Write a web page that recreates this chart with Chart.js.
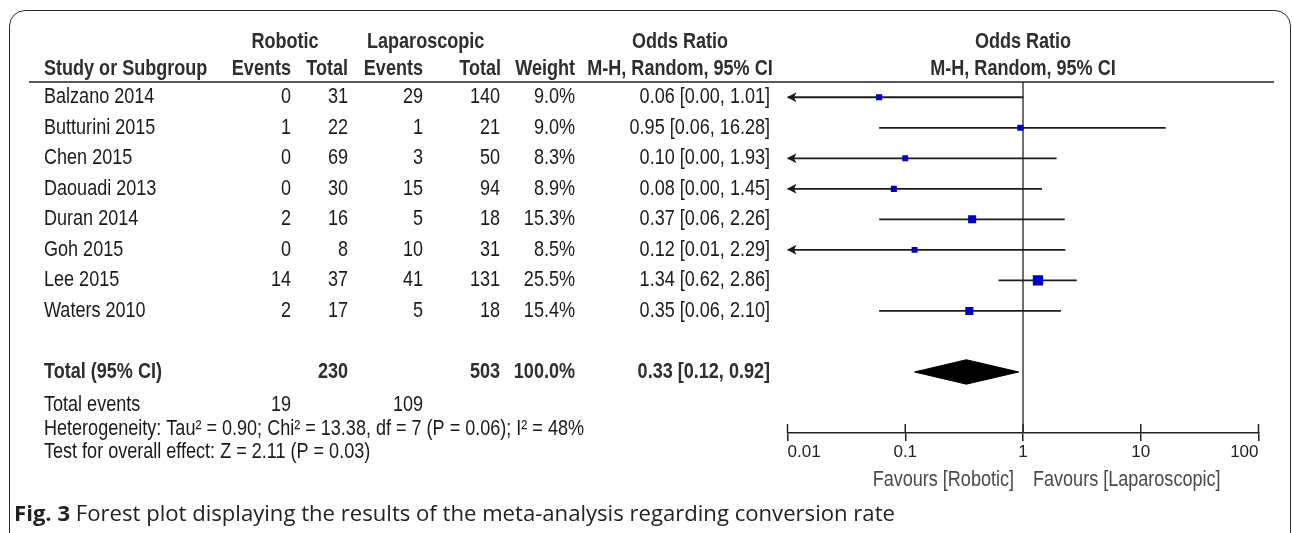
<!DOCTYPE html>
<html><head><meta charset="utf-8">
<script src="https://cdn.jsdelivr.net/npm/chart.js@4.4.1/dist/chart.umd.min.js"></script>
<style>
html,body{margin:0;padding:0;background:#fff;width:1292px;height:533px;overflow:hidden;}
#wrap{position:relative;width:1292px;height:533px;}
#frame{position:absolute;left:9px;top:10px;width:1282px;height:620px;border:1.6px solid #2a2a2a;border-radius:16px;box-sizing:border-box;}
canvas{position:absolute;left:0;top:0;}
#cap{position:absolute;left:14px;top:500px;font-family:"Open Sans";font-size:18px;color:#222;white-space:nowrap;line-height:24px;}
</style></head><body>
<div id="wrap"><div id="frame"></div><canvas id="c" width="1292" height="533"></canvas><div id="cap"><b>Fig. 3</b> Forest plot displaying the results of the meta-analysis regarding conversion rate</div></div>
<script>
// ---------- data ----------
const studies = ['Balzano 2014','Butturini 2015','Chen 2015','Daouadi 2013','Duran 2014','Goh 2015','Lee 2015','Waters 2010'];
const roboticEvents = [0, 1, 0, 0, 2, 0, 14, 2];
const roboticTotal = [31, 22, 69, 30, 16, 8, 37, 17];
const lapEvents = [29, 1, 3, 15, 5, 10, 41, 5];
const lapTotal = [140, 21, 50, 94, 18, 31, 131, 18];
const weights = [9.0, 9.0, 8.3, 8.9, 15.3, 8.5, 25.5, 15.4];
const oddsRatio = [0.06, 0.95, 0.10, 0.08, 0.37, 0.12, 1.34, 0.35];
const ciLower = [0.00, 0.06, 0.00, 0.00, 0.06, 0.01, 0.62, 0.06];
const ciUpper = [1.01, 16.28, 1.93, 1.45, 2.26, 2.29, 2.86, 2.10];
const pooledOR = [0.33, 0.12, 0.92];          // estimate, lower, upper
const pooledTotals = [230, 503];              // robotic, laparoscopic
const pooledWeight = 100.0;
const totalEvents = [19, 109];                // robotic, laparoscopic
const axisTicks = [0.01, 0.1, 1, 10, 100];
const axisTickLabels = ['0.01', '0.1', '1', '10', '100'];
const heterogeneityText = 'Heterogeneity: Tau\u00b2 = 0.90; Chi\u00b2 = 13.38, df = 7 (P = 0.06); I\u00b2 = 48%';
const overallEffectText = 'Test for overall effect: Z = 2.11 (P = 0.03)';
const favoursLabels = ['Favours [Robotic]', 'Favours [Laparoscopic]'];

// ---------- fonts ----------
function hasFont(f){
  const c = document.createElement('canvas').getContext('2d');
  const s = 'abcdefghijKLMNOP 0123';
  c.font = '40px monospace'; const a = c.measureText(s).width;
  c.font = '40px "' + f + '", monospace'; const b = c.measureText(s).width;
  return Math.abs(a - b) > 0.5;
}
const hasNarrow = hasFont('Liberation Sans Narrow');
const FAM = hasNarrow ? '"Liberation Sans Narrow"' : '"Liberation Sans", Arial, sans-serif';
const SX = hasNarrow ? 1 : 0.82;
const FS = 22;

const X_MIN = axisTicks[0], X_MAX = axisTicks[axisTicks.length - 1];
const f2 = v => v.toFixed(2);
const TOTAL_ROW = studies.length + 1;
const DIAMOND_H = 0.4;

function txt(ctx, s, x, y, align, bold, color){
  ctx.save();
  ctx.font = (bold ? 'bold ' : '') + FS + 'px ' + FAM;
  ctx.fillStyle = color || '#1a1a1a';
  ctx.textAlign = align; ctx.textBaseline = 'middle';
  ctx.translate(x, y); ctx.scale(SX, 1);
  ctx.fillText(s, 0, 0);
  ctx.restore();
}

const forestPlugin = {
  id: 'forestText',
  afterDraw(chart){
    const ctx = chart.ctx, xs = chart.scales.x, ys = chart.scales.y, ca = chart.chartArea;
    const ry = r => ys.getPixelForValue(r);
    const x1 = xs.getPixelForValue(1);
    // header underline
    ctx.save(); ctx.strokeStyle = '#222'; ctx.lineWidth = 1.6;
    ctx.beginPath(); ctx.moveTo(29, ca.top); ctx.lineTo(1274, ca.top); ctx.stroke(); ctx.restore();
    // headers
    const H1 = 42, H2 = 69, HC = '#2e2e2e';
    txt(ctx, 'Robotic', 285, H1, 'center', true, HC);
    txt(ctx, 'Laparoscopic', 367, H1, 'left', true, HC);
    txt(ctx, 'Odds Ratio', 680, H1, 'center', true, HC);
    txt(ctx, 'Odds Ratio', x1, H1, 'center', true, HC);
    txt(ctx, 'Study or Subgroup', 44, H2, 'left', true, HC);
    txt(ctx, 'Events', 291, H2, 'right', true, HC);
    txt(ctx, 'Total', 348, H2, 'right', true, HC);
    txt(ctx, 'Events', 423, H2, 'right', true, HC);
    txt(ctx, 'Total', 501, H2, 'right', true, HC);
    txt(ctx, 'Weight', 575, H2, 'right', true, HC);
    txt(ctx, 'M-H, Random, 95% CI', 680, H2, 'center', true, HC);
    txt(ctx, 'M-H, Random, 95% CI', x1, H2, 'center', true, HC);
    // study rows
    studies.forEach((s, i) => {
      const y = ry(i);
      txt(ctx, s, 44, y, 'left');
      txt(ctx, String(roboticEvents[i]), 291, y, 'right');
      txt(ctx, String(roboticTotal[i]), 348, y, 'right');
      txt(ctx, String(lapEvents[i]), 423, y, 'right');
      txt(ctx, String(lapTotal[i]), 500, y, 'right');
      txt(ctx, weights[i].toFixed(1) + '%', 575, y, 'right');
      txt(ctx, f2(oddsRatio[i]) + ' [' + f2(ciLower[i]) + ', ' + f2(ciUpper[i]) + ']', 770, y, 'right');
    });
    // total row
    const yt = ry(TOTAL_ROW);
    txt(ctx, 'Total (95% CI)', 44, yt, 'left', true, HC);
    txt(ctx, String(pooledTotals[0]), 348, yt, 'right', true, HC);
    txt(ctx, String(pooledTotals[1]), 500, yt, 'right', true, HC);
    txt(ctx, pooledWeight.toFixed(1) + '%', 575, yt, 'right', true, HC);
    txt(ctx, f2(pooledOR[0]) + ' [' + f2(pooledOR[1]) + ', ' + f2(pooledOR[2]) + ']', 770, yt, 'right', true, HC);
    const ye = ry(TOTAL_ROW + 1.08);
    txt(ctx, 'Total events', 44, ye, 'left');
    txt(ctx, String(totalEvents[0]), 291, ye, 'right');
    txt(ctx, String(totalEvents[1]), 423, ye, 'right');
    txt(ctx, heterogeneityText, 44, ry(TOTAL_ROW + 1.87), 'left');
    txt(ctx, overallEffectText, 44, ry(TOTAL_ROW + 2.62), 'left');
    // arrows for truncated CIs
    ctx.save(); ctx.fillStyle = '#1a1a1a';
    studies.forEach((s, i) => {
      if (ciLower[i] <= X_MIN) {
        const y = ry(i), xl = xs.getPixelForValue(X_MIN);
        ctx.beginPath(); ctx.moveTo(xl - 0.5, y); ctx.lineTo(xl + 9, y - 5); ctx.lineTo(xl + 6.5, y); ctx.lineTo(xl + 9, y + 5); ctx.closePath(); ctx.fill();
      }
    });
    ctx.restore();
    // upper half of axis ticks
    ctx.save(); ctx.strokeStyle = '#222'; ctx.lineWidth = 1.5;
    axisTicks.forEach(v => { const px = xs.getPixelForValue(v); ctx.beginPath(); ctx.moveTo(px, ca.bottom - 9); ctx.lineTo(px, ca.bottom); ctx.stroke(); });
    ctx.restore();
    // favours labels
    txt(ctx, favoursLabels[0], x1 - 9, 480, 'right', false, '#4a4a4a');
    txt(ctx, favoursLabels[1], x1 + 10, 480, 'left', false, '#4a4a4a');
  }
};

// ---------- datasets ----------
const datasets = [];
datasets.push({
  type: 'scatter', label: 'OR', order: 0,
  data: studies.map((s, i) => ({x: oddsRatio[i], y: i})),
  pointStyle: 'rect',
  pointRadius: c => 1.45 * Math.sqrt(weights[c.dataIndex]),
  pointHoverRadius: c => 1.45 * Math.sqrt(weights[c.dataIndex]),
  backgroundColor: '#0000c8', borderColor: '#0000c8', borderWidth: 0
});
datasets.push({
  type: 'line', label: 'pooled-top', order: 1,
  data: [{x: pooledOR[1], y: TOTAL_ROW}, {x: pooledOR[0], y: TOTAL_ROW - DIAMOND_H}, {x: pooledOR[2], y: TOTAL_ROW}],
  borderColor: '#000', borderWidth: 1, pointRadius: 0, fill: false, tension: 0
});
datasets.push({
  type: 'line', label: 'pooled-bottom', order: 1,
  data: [{x: pooledOR[1], y: TOTAL_ROW}, {x: pooledOR[0], y: TOTAL_ROW + DIAMOND_H}, {x: pooledOR[2], y: TOTAL_ROW}],
  borderColor: '#000', borderWidth: 1, pointRadius: 0, fill: '-1', backgroundColor: '#000', tension: 0
});
studies.forEach((s, i) => datasets.push({
  type: 'line', label: 'CI ' + s, order: 2,
  data: [{x: Math.max(ciLower[i], X_MIN), y: i}, {x: ciUpper[i], y: i}],
  borderColor: '#1c1c1c', borderWidth: 1.8, pointRadius: 0, fill: false
}));
datasets.push({
  type: 'line', label: 'null', order: 3,
  data: [{x: 1, y: -0.5}, {x: 1, y: TOTAL_ROW + 2}],
  borderColor: '#222', borderWidth: 1.3, pointRadius: 0, fill: false
});

new Chart(document.getElementById('c'), {
  type: 'scatter',
  data: {datasets},
  options: {
    responsive: false, animation: false, devicePixelRatio: 1,
    layout: {padding: {left: 787.5, right: 33.5, top: 82, bottom: 60}},
    plugins: {legend: {display: false}, tooltip: {enabled: false}},
    scales: {
      x: {
        type: 'logarithmic', min: X_MIN, max: X_MAX, position: 'bottom',
        afterBuildTicks: s => { s.ticks = axisTicks.map(v => ({value: v, major: true})); },
        afterFit: s => { s.height = 40; },
        border: {display: true, color: '#222', width: 1.5},
        grid: {display: true, drawOnChartArea: false, drawTicks: true, tickLength: 8, color: '#222', lineWidth: 1.5},
        ticks: {align: 'inner', padding: 1, color: '#222', autoSkip: false, maxRotation: 0,
          font: {family: hasNarrow ? 'Liberation Sans Narrow' : 'Liberation Sans', size: hasNarrow ? 21 : 17},
          callback: (v, i) => axisTickLabels[i]}
      },
      y: {type: 'linear', reverse: true, min: -0.5, max: TOTAL_ROW + 2, display: false}
    }
  },
  plugins: [forestPlugin]
});

// caption font size to fit the measured width
(function(){
  const c = document.createElement('canvas').getContext('2d');
  c.font = 'bold 100px "Open Sans"'; const a = c.measureText('Fig. 3').width;
  c.font = '100px "Open Sans"'; const b = c.measureText(' Forest plot displaying the results of the meta-analysis regarding conversion rate').width;
  const size = 881 / ((a + b) / 100);
  document.getElementById('cap').style.fontSize = size.toFixed(2) + 'px';
})();
</script>
</body></html>
